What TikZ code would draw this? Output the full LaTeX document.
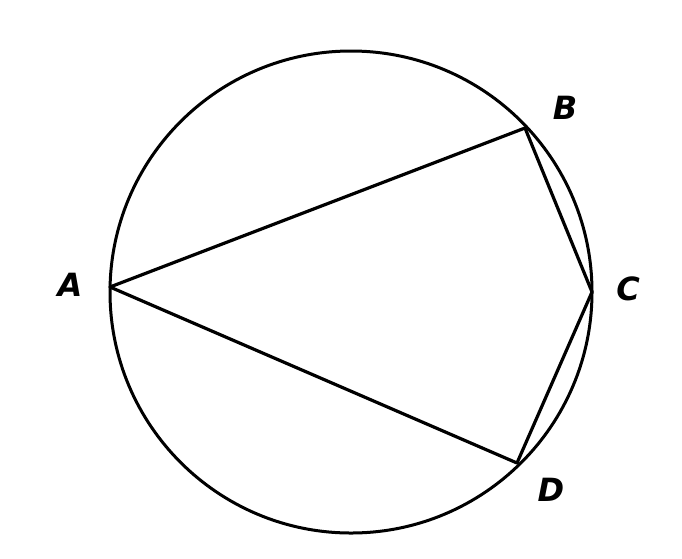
\documentclass[tikz,border=0pt]{standalone}
\usepackage{fontspec}
\setsansfont{DejaVu Sans}
\begin{document}
\begin{tikzpicture}[x=1pt,y=-1pt,
  edge/.style={line width=3.2pt,line join=round,line cap=round},
  lbl/.style={font=\sffamily\bfseries\itshape\fontsize{32}{32}\selectfont,inner sep=0pt}]
\useasboundingbox (0,0) rectangle (682,558);
\coordinate (O) at (351,292);
\draw[line width=3pt] (O) circle[radius=241];
\coordinate (A) at (110,287);
\coordinate (B) at (525,128);
\coordinate (C) at (592,292);
\coordinate (D) at (517,463);
\draw[edge] (A) -- (B) -- (C) -- (D) -- cycle;
\node[lbl] (lA) at (70,285) {A};
\node[lbl] (lB) at (565,108) {B};
\node[lbl] (lC) at (628,289) {C};
\node[lbl] (lD) at (551,490) {D};
\end{tikzpicture}
\end{document}
